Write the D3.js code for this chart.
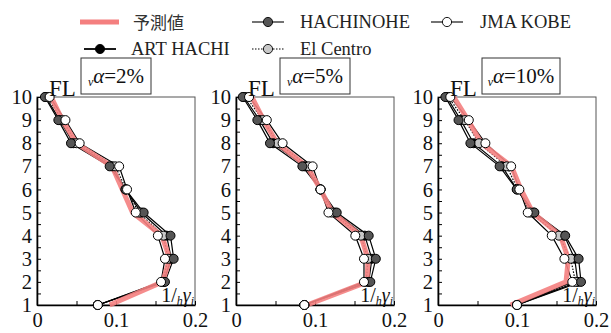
<!DOCTYPE html>
<html>
<head>
<meta charset="utf-8">
<script src="https://cdn.jsdelivr.net/npm/d3@7"></script>
<style>
  body { margin: 0; background: #fff; }
  svg { font-family: "Liberation Serif", "DejaVu Serif", serif; }
</style>
</head>
<body>
<div id="vis"></div>
<script>
const WIDTH = 611, HEIGHT = 333;

// floors 1..10, values are 1/hγi
const floors = [1, 2, 3, 4, 5, 6, 7, 8, 9, 10];
const alphaLabels = ["2%", "5%", "10%"];
const xTicks = [0, 0.05, 0.1, 0.15, 0.2];

const prediction = [
  [0.092, 0.159, 0.168, 0.158, 0.121, 0.108, 0.095, 0.050, 0.032, 0.018],
  [0.090, 0.166, 0.167, 0.158, 0.122, 0.107, 0.090, 0.052, 0.035, 0.020],
  [0.092, 0.162, 0.165, 0.155, 0.120, 0.105, 0.093, 0.055, 0.038, 0.020]
];
const artHachi = [
  [0.077, 0.160, 0.170, 0.164, 0.132, 0.112, 0.095, 0.046, 0.029, 0.011],
  [0.0865, 0.168, 0.172, 0.163, 0.125, 0.107, 0.087, 0.047, 0.030, 0.010],
  [0.100, 0.177, 0.173, 0.160, 0.121, 0.100, 0.081, 0.045, 0.029, 0.011]
];
const elCentro = [
  [0.077, 0.159, 0.166, 0.160, 0.129, 0.113, 0.099, 0.050, 0.032, 0.013],
  [0.0865, 0.165, 0.167, 0.158, 0.121, 0.107, 0.092, 0.053, 0.034, 0.013],
  [0.100, 0.174, 0.168, 0.153, 0.117, 0.101, 0.087, 0.052, 0.034, 0.013]
];
const hachinohe = [
  [0.077, 0.162, 0.173, 0.169, 0.135, 0.112, 0.092, 0.043, 0.027, 0.010],
  [0.0865, 0.170, 0.177, 0.168, 0.1275, 0.107, 0.084, 0.043, 0.027, 0.0085],
  [0.100, 0.181, 0.178, 0.161, 0.122, 0.0996, 0.078, 0.041, 0.026, 0.0093]
];
const jmaKobe = [
  [0.077, 0.157, 0.162, 0.153, 0.125, 0.114, 0.104, 0.054, 0.036, 0.016],
  [0.0865, 0.162, 0.162, 0.151, 0.117, 0.107, 0.097, 0.059, 0.039, 0.0165],
  [0.100, 0.170, 0.160, 0.144, 0.1136, 0.103, 0.0926, 0.060, 0.039, 0.0156]
];

const series = [
  {name: "ART HACHI", data: artHachi, fill: "#000", dash: null},
  {name: "El Centro", data: elCentro, fill: "#c8c8c8", dash: "1.5,1.5"},
  {name: "HACHINOHE", data: hachinohe, fill: "#555", dash: null},
  {name: "JMA KOBE", data: jmaKobe, fill: "#fff", dash: null}
];
const PINK = "#f47f7f";

const PANEL_LEFT = [37, 236, 438];
const PANEL_W = 158;
const TOP = 97, BOTTOM = 305;

const svg = d3.select("#vis").append("svg")
  .attr("width", WIDTH).attr("height", HEIGHT);

// legend
const legend = svg.append("g").attr("font-size", 18.5);
legend.append("line").attr("x1", 80).attr("x2", 119).attr("y1", 22).attr("y2", 22)
  .attr("stroke", PINK).attr("stroke-width", 5);
legend.append("text").attr("x", 133).attr("y", 29)
  .attr("font-family", "'Noto Sans CJK JP', sans-serif").attr("font-size", 17)
  .attr("fill", "#333").text("予測値");

const legendItems = [
  {s: series[2], cx: 268, y: 22, tx: 300},
  {s: series[3], cx: 447, y: 22, tx: 480},
  {s: series[0], cx: 100, y: 49, tx: 131},
  {s: series[1], cx: 268, y: 49, tx: 300}
];
legendItems.forEach(d => {
  legend.append("line").attr("x1", d.cx - 16).attr("x2", d.cx + 16)
    .attr("y1", d.y).attr("y2", d.y)
    .attr("stroke", "#000").attr("stroke-width", d.s.name === "ART HACHI" ? 1.8 : 1.1)
    .attr("stroke-dasharray", d.s.dash);
  legend.append("circle").attr("cx", d.cx).attr("cy", d.y).attr("r", 4.6)
    .attr("fill", d.s.fill).attr("stroke", "#000").attr("stroke-width", 0.9);
  legend.append("text").attr("x", d.tx).attr("y", d.y + 6).attr("fill", "#222")
    .text(d.s.name);
});

const y = d3.scaleLinear().domain([1, 10]).range([BOTTOM, TOP]);

PANEL_LEFT.forEach((left, p) => {
  const x = d3.scaleLinear().domain([0, 0.2]).range([left, left + PANEL_W]);
  const g = svg.append("g");

  // frame (top/right)
  g.append("rect").attr("x", left).attr("y", TOP)
    .attr("width", PANEL_W).attr("height", BOTTOM - TOP)
    .attr("fill", "none").attr("stroke", "#555").attr("stroke-width", 1);

  const yAxis = g.append("g").attr("transform", `translate(${left},0)`)
    .call(d3.axisLeft(y).tickValues(d3.range(1, 10.01, 0.5))
      .tickSizeInner(-4).tickSizeOuter(0).tickPadding(5)
      .tickFormat(d => Number.isInteger(d) ? d : ""));
  const xAxis = g.append("g").attr("transform", `translate(0,${BOTTOM})`)
    .call(d3.axisBottom(x).tickValues(xTicks)
      .tickSizeInner(-4).tickSizeOuter(0).tickPadding(7)
      .tickFormat(d => d === 0 ? "0" : (Math.abs(d * 10 - Math.round(d * 10)) < 1e-9 ? d3.format(".1f")(d) : "")));
  [yAxis, xAxis].forEach(a => {
    a.select(".domain").attr("stroke-width", 1.6);
    a.selectAll("text").attr("font-size", 20.5).attr("font-family", "'Liberation Serif', serif").attr("fill", "#111");
  });

  const line = d3.line().x(d => x(d[0])).y(d => y(d[1]));

  series.forEach(s => {
    g.append("path").datum(s.data[p].map((v, i) => [v, floors[i]]))
      .attr("d", line).attr("fill", "none").attr("stroke", "#000")
      .attr("stroke-width", 1.2).attr("stroke-dasharray", s.dash);
  });
  g.append("path").datum(prediction[p].map((v, i) => [v, floors[i]]))
    .attr("d", line).attr("fill", "none").attr("stroke", PINK)
    .attr("stroke-width", 5).attr("opacity", 0.9);
  series.forEach(s => {
    g.selectAll(null).data(s.data[p].map((v, i) => [v, floors[i]]))
      .enter().append("circle")
      .attr("cx", d => x(d[0])).attr("cy", d => y(d[1])).attr("r", 4.5)
      .attr("fill", s.fill).attr("stroke", "#000").attr("stroke-width", 1);
  });

  // FL label
  g.append("text").attr("x", left + 12).attr("y", 96).attr("font-size", 23)
    .attr("fill", "#111").text("FL");

  // alpha box
  const boxW = p === 2 ? 78 : 70;
  g.append("rect").attr("x", left + 44).attr("y", 58).attr("width", boxW).attr("height", 36)
    .attr("fill", "#fff").attr("stroke", "#333").attr("stroke-width", 1);
  const t = g.append("text").attr("x", left + 44 + boxW / 2).attr("y", 83)
    .attr("text-anchor", "middle").attr("font-size", 21).attr("fill", "#111");
  t.append("tspan").attr("font-style", "italic").attr("font-size", 12).attr("dy", 3).text("ν");
  t.append("tspan").attr("font-style", "italic").attr("dy", -3).text("α");
  t.append("tspan").text("=" + alphaLabels[p]);

  // 1/hγi label
  const q = g.append("text").attr("x", left + PANEL_W - 1).attr("y", 302)
    .attr("text-anchor", "end").attr("font-size", 20).attr("fill", "#111");
  q.append("tspan").text("1/");
  q.append("tspan").attr("font-style", "italic").attr("font-size", 12).attr("dy", 3).text("h");
  q.append("tspan").attr("font-style", "italic").attr("dy", -3).text("γ");
  q.append("tspan").attr("font-style", "italic").attr("font-size", 12).attr("dy", 3).text("i");
});
</script>
</body>
</html>
